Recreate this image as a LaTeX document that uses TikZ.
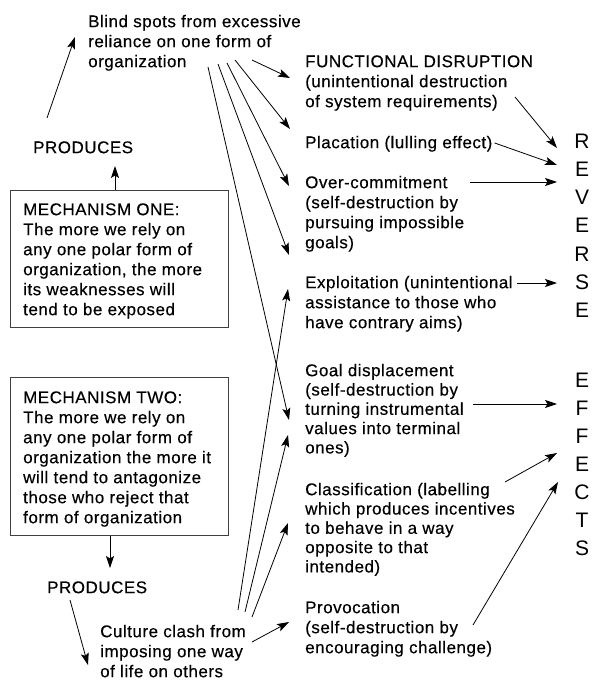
\documentclass[tikz,border=0pt]{standalone}
\usepackage{fontspec}
\setmainfont[LetterSpace=3,FakeBold=0.3]{Liberation Sans}
\newfontfamily\bigletters{Liberation Sans}
\usetikzlibrary{arrows.meta}
\newcommand\fl{\rule{0pt}{14pt}}
\begin{document}
\begin{tikzpicture}[x=1pt,y=-1pt,
  txt/.style={anchor=north west, inner sep=0pt, align=left, font=\fontsize{17}{20}\selectfont},
  txtb/.style={txt, font=\fontsize{17}{19.3}\selectfont},
  arr/.style={-{Stealth[length=12pt,width=8pt,inset=2.5pt]}, line width=0.8pt},
  big/.style={anchor=base, inner sep=0pt, font=\bigletters\fontsize{21}{21}\selectfont},
  boxframe/.style={draw=black!75, line width=0.8pt, anchor=north west, inner sep=0pt}]
\useasboundingbox (0,0) rectangle (595,680);

% text blocks
\node[txt] (blind) at (88,13) {\fl Blind spots from excessive\\reliance on one form of\\organization};
\node[txt] (func) at (305,53) {\fl FUNCTIONAL DISRUPTION\\(unintentional destruction\\of system requirements)};
\node[txt] (plac) at (305,134) {\fl Placation (lulling effect)};
\node[txt] (over) at (305,174) {\fl Over-commitment\\(self-destruction by\\pursuing impossible\\goals)};
\node[txt] (expl) at (305,274) {\fl Exploitation (unintentional\\assistance to those who\\have contrary aims)};
\node[txtb] (goal) at (305,362) {\fl Goal displacement\\(self-destruction by\\turning instrumental\\values into terminal\\ones)};
\node[txtb] (class) at (305,481) {\fl Classification (labelling\\which produces incentives\\to behave in a way\\opposite to that\\intended)};
\node[txt] (prov) at (305,599) {\fl Provocation\\(self-destruction by\\encouraging challenge)};

\node[txt] (prod1) at (33,139) {\fl PRODUCES};
\node[boxframe, minimum width=218pt, minimum height=137pt] (box1) at (10,190) {};
\node[txt] (m1) at (23,201) {\fl MECHANISM ONE:\\The more we rely on\\any one polar form of\\organization, the more\\its weaknesses will\\tend to be exposed};
\node[boxframe, minimum width=218pt, minimum height=158pt] (box2) at (10,377) {};
\node[txt] (m2) at (23,389) {\fl MECHANISM TWO:\\The more we rely on\\any one polar form of\\organization the more it\\will tend to antagonize\\those who reject that\\form of organization};
\node[txt] (prod2) at (47,579) {\fl PRODUCES};
\node[txt] (clash) at (100,623) {\fl Culture clash from\\imposing one way\\of life on others};

% REVERSE / EFFECTS
\node[big] (r1) at (582,148) {R};
\node[big] (r2) at (582,176.3) {E};
\node[big] (r3) at (582,204.6) {V};
\node[big] (r4) at (582,232.9) {E};
\node[big] (r5) at (582,261.2) {R};
\node[big] (r6) at (582,289.5) {S};
\node[big] (r7) at (582,317.8) {E};
\node[big] (e1) at (582,387) {E};
\node[big] (e2) at (582,415) {F};
\node[big] (e3) at (582,443) {F};
\node[big] (e4) at (582,471) {E};
\node[big] (e5) at (582,499) {C};
\node[big] (e6) at (582,527) {T};
\node[big] (e7) at (582,555) {S};

% arrow end points
\coordinate (bs1) at (252,60);  \coordinate (bt1) at (290,78);
\coordinate (bs2) at (235,60);  \coordinate (bt2) at (290,129);
\coordinate (bs3) at (227,63);  \coordinate (bt3) at (289,186);
\coordinate (bs4) at (218,64);  \coordinate (bt4) at (289,255);
\coordinate (bs5) at (208,67);  \coordinate (bt5) at (289,420);
\coordinate (cs1) at (238,610); \coordinate (ct1) at (288,289);
\coordinate (cs2) at (245,612); \coordinate (ct2) at (288,435);
\coordinate (cs3) at (252,617); \coordinate (ct3) at (288,523);
\coordinate (cs4) at (252,642); \coordinate (ct4) at (289,622);
\coordinate (fs) at (515,97);   \coordinate (ft) at (557,148);
\coordinate (pt) at (557,165);
\coordinate (os) at (470,182);  \coordinate (ot) at (557,182);
\coordinate (xs) at (517,283);  \coordinate (xt) at (557,283);
\coordinate (gs) at (473,404);  \coordinate (gt) at (557,404);
\coordinate (ks) at (505,482);  \coordinate (kt) at (557,453);
\coordinate (vs) at (473,625);  \coordinate (vt) at (558,482);
\coordinate (p1s) at (47,118);  \coordinate (p1t) at (75,37);
\coordinate (b1t) at (115,166);
\coordinate (b2t) at (110,568);
\coordinate (p2s) at (70,600);  \coordinate (p2t) at (88,665);

% connectors
\draw[arr] (bs1) -- (bt1);
\draw[arr] (bs2) -- (bt2);
\draw[arr] (bs3) -- (bt3);
\draw[arr] (bs4) -- (bt4);
\draw[arr] (bs5) -- (bt5);
\draw[arr] (cs1) -- (ct1);
\draw[arr] (cs2) -- (ct2);
\draw[arr] (cs3) -- (ct3);
\draw[arr] (cs4) -- (ct4);
\draw[arr] (fs) -- (ft);
\draw[arr] ([xshift=2pt]plac.east) -- (pt);
\draw[arr] (os) -- (ot);
\draw[arr] (xs) -- (xt);
\draw[arr] (gs) -- (gt);
\draw[arr] (ks) -- (kt);
\draw[arr] (vs) -- (vt);
\draw[arr] (p1s) -- (p1t);
\draw[arr] (box1.north -| b1t) -- (b1t);
\draw[arr] (box2.south -| b2t) -- (b2t);
\draw[arr] (p2s) -- (p2t);
\end{tikzpicture}
\end{document}
